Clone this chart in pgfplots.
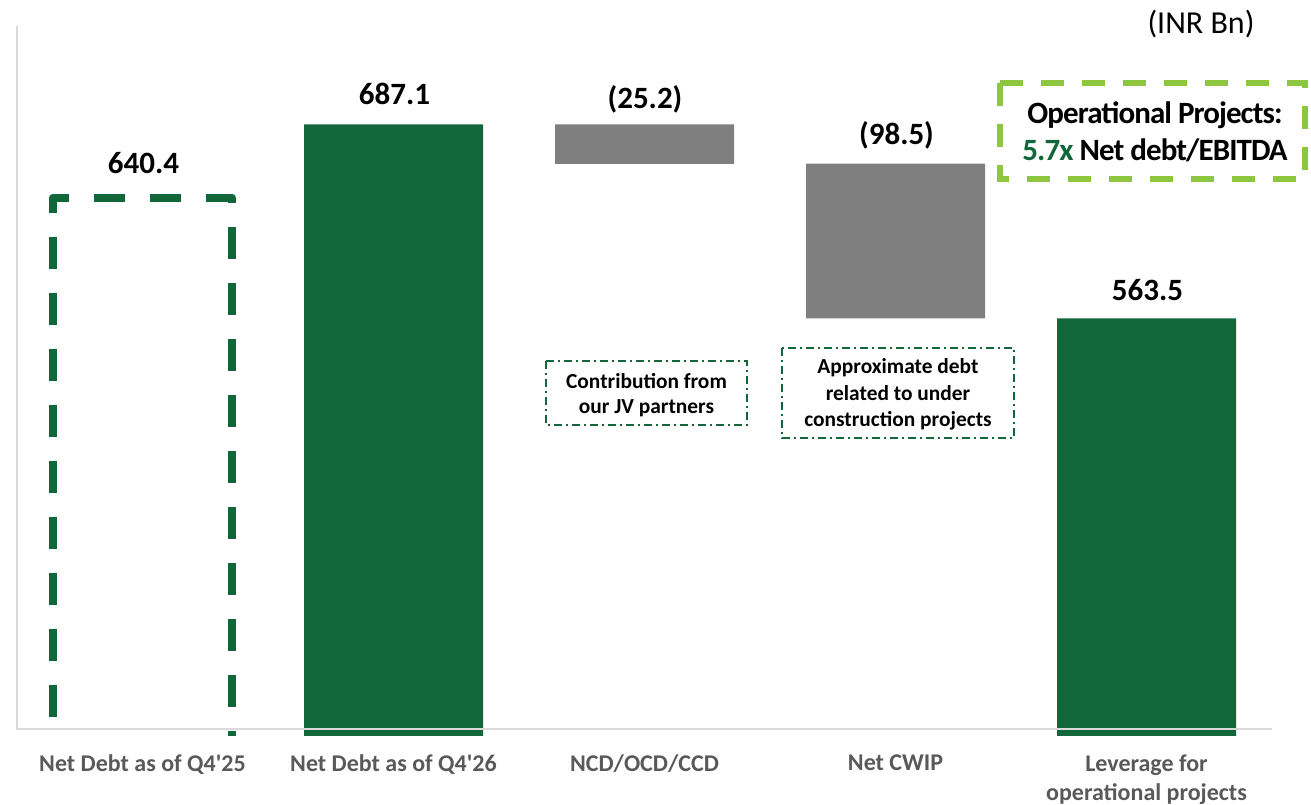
\documentclass[border=0pt]{standalone}
\usepackage{pgfplots}
\pgfplotsset{compat=1.18}
\usepackage{fontspec}
\setmainfont{Carlito}
\definecolor{dkgreen}{HTML}{11673A}
\definecolor{ltgreen}{HTML}{8DC63F}
\definecolor{bargray}{HTML}{7F7F7F}
\definecolor{lblgray}{HTML}{595959}
\definecolor{axgray}{HTML}{D9D9D9}
\begin{document}
\begin{tikzpicture}
\begin{scope}[shift={(-8.5pt,368pt)},x=0.5pt,y=-0.5pt]
\useasboundingbox (0,0) rectangle (1311,803);
\end{scope}
\begin{axis}[
  at={(0,0)}, anchor=south west,
  scale only axis, width=627.5pt, height=355pt,
  xmin=-0.5, xmax=4.5, ymin=297.5, ymax=749.7,
  ybar stacked, bar width=89.5pt,
  axis line style={draw=none},
  ytick=\empty,
  xtick={0,1,2,3,4},
  xticklabels={Net Debt as of Q4\textquotesingle25, Net Debt as of Q4\textquotesingle26, NCD/OCD/CCD, Net CWIP, {Leverage for\\operational projects}},
  major tick length=0pt,
  xticklabel style={font=\fontsize{12pt}{14.5pt}\selectfont\bfseries, text=lblgray, align=center, anchor=north, inner sep=0pt, yshift=-9pt},
  clip=true,
]
\addplot[fill=none, draw=none] coordinates {(0,0) (1,0) (2,661.9) (3,563.5) (4,0)};
\addplot[fill=dkgreen, draw=none] coordinates {(0,0) (1,687.1) (2,0) (3,0) (4,563.5)};
\addplot[fill=bargray, draw=none] coordinates {(0,0) (1,0) (2,25.2) (3,98.5) (4,0)};
\end{axis}
\begin{axis}[
  at={(0,0)}, anchor=south west,
  scale only axis, width=627.5pt, height=355pt,
  xmin=-0.5, xmax=4.5, ymin=297.5, ymax=749.7,
  hide axis, clip=true,
]
\addplot[dkgreen, line width=4pt, dash pattern=on 15.75pt off 12.25pt, dash phase=18.5pt, line join=round, mark=none] coordinates {(-0.3566,297.5) (-0.3566,640.4) (0.3566,640.4) (0.3566,297.5)};
\end{axis}
\begin{scope}[shift={(-8.5pt,368pt)},x=0.5pt,y=-0.5pt]
\draw[axgray, line width=1.2pt] (17,26) -- (17,729) -- (1272,729);
\begin{scope}[font=\fontsize{15.5pt}{18pt}\selectfont\bfseries]
\node at (143.5,163) {640.4};
\node at (394.5,94) {687.1};
\node at (645,99) {(25.2)};
\node at (896.5,135) {(98.5)};
\node at (1147.5,290) {563.5};
\end{scope}
\draw[dkgreen, line width=1pt, dash pattern=on 4pt off 2pt on 1pt off 2pt] (546,361) rectangle (747,425);
\node[align=center, font=\fontsize{10.7pt}{12.5pt}\selectfont\bfseries] at (646.5,395.5) {Contribution from\\our JV partners};
\draw[dkgreen, line width=1pt, dash pattern=on 4pt off 2pt on 1pt off 2pt] (782,348) rectangle (1014,438);
\node[align=center, font=\fontsize{10.7pt}{13.25pt}\selectfont\bfseries] at (898,394.5) {Approximate debt\\related to under\\construction projects};
\draw[ltgreen, line width=3pt, dash pattern=on 11.5pt off 9pt] (1000,83) rectangle (1305,179);
\node[align=center, font=\fontsize{15.5pt}{18.5pt}\selectfont\bfseries\addfontfeature{LetterSpace=-3}] at (1155,131.5) {Operational Projects:\\{\color{dkgreen}5.7x} Net debt/EBITDA};
\node[font=\fontsize{16pt}{19pt}\selectfont] at (1201,24) {(INR Bn)};
\end{scope}
\end{tikzpicture}
\end{document}
